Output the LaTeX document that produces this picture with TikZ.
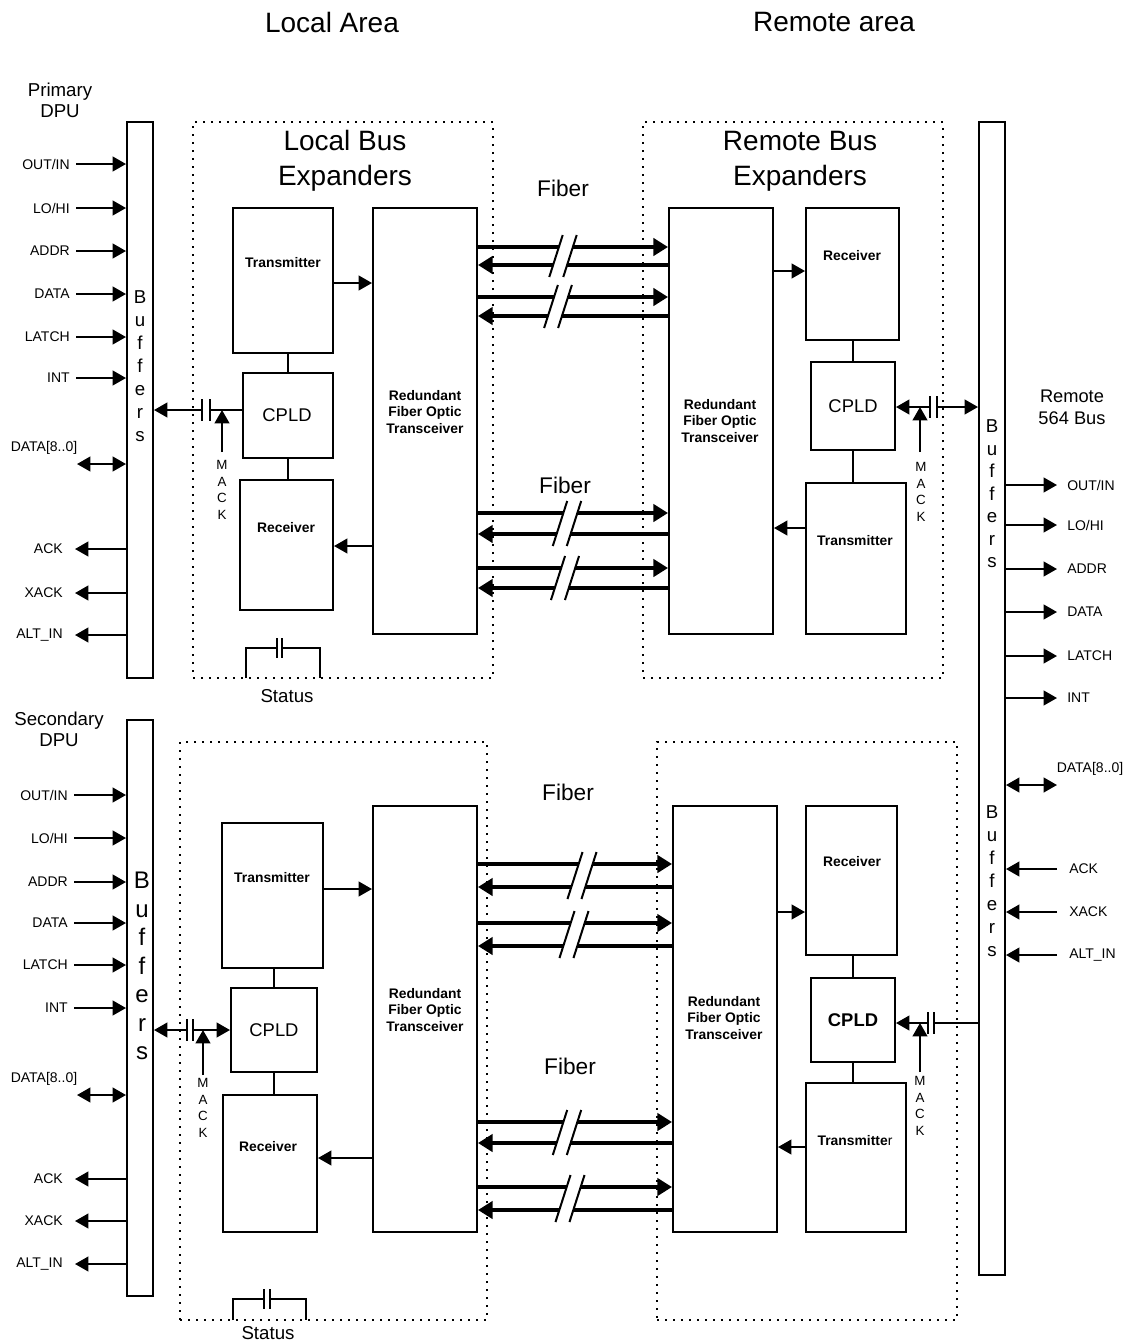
\documentclass[tikz,border=0pt]{standalone}
\usepackage{fontspec}
\setmainfont{Liberation Sans}
\usetikzlibrary{arrows.meta,fit,calc}

\tikzset{
  boite/.style={draw, line width=1.5pt, inner sep=0pt},
  zone/.style={draw, line width=1.5pt, dash pattern=on 1.5pt off 4.5pt, inner sep=0pt},
  trait/.style={line width=1.5pt},
  fleche/.style={line width=1.5pt, -{Triangle[length=10pt,width=11pt]}},
  fleches/.style={line width=1.5pt, {Triangle[length=10pt,width=11pt]}-{Triangle[length=10pt,width=11pt]}},
  fibre/.style={line width=2.6pt},
  fibrefleche/.style={line width=2.6pt, -{Triangle[length=11pt,width=13pt]}},
  titre/.style={font=\fontsize{21}{26.25}\selectfont, align=center, inner sep=0pt},
  fibretxt/.style={font=\fontsize{17}{20}\selectfont, inner sep=0pt},
  dpu/.style={font=\fontsize{14}{15.75}\selectfont, align=center, inner sep=0pt},
  etiq/.style={font=\fontsize{10.5}{12.6}\selectfont, inner sep=0pt},
  gras/.style={font=\fontsize{10.4}{12.4}\selectfont\bfseries, align=center, inner sep=0pt},
  cpld/.style={font=\fontsize{13.8}{16}\selectfont, inner sep=0pt},
  mack/.style={font=\fontsize{10}{12.4}\selectfont, align=center, inner sep=0pt},
  lettres/.style={font=\fontsize{14}{17.25}\selectfont, align=center, inner sep=0pt},
}

\begin{document}
\begin{tikzpicture}[x=0.75pt,y=-0.75pt]
		% cadre de la page (pixels)
		\useasboundingbox (0,0) rectangle (1126,1343);

		% titres
		\node[titre] (tLocal) at (332,22) {Local Area};
		\node[titre] (tRemote) at (834,22) {Remote area};
		\node[dpu] (tPrim) at (60,100) {Primary\\DPU};
		\node[dpu] (tSec) at (59,729) {Secondary\\DPU};
		\node[dpu, font=\fontsize{13.7}{16.5}\selectfont] (tBus) at (1072,407) {Remote\\564 Bus};

		% buffers
		\node[boite, fit={(127,122)(153,678)}] (lbufA) {};
		\node[boite, fit={(127,720)(153,1296)}] (lbufB) {};
		\node[boite, fit={(979,122)(1005,1275)}] (rbuf) {};
		\node[lettres] (bA) at (140,366) {B\\u\\f\\f\\e\\r\\s};
		\node[lettres, font=\fontsize{18}{21.4}\selectfont] (bB) at (142,966) {B\\u\\f\\f\\e\\r\\s};
		\node[lettres, font=\fontsize{14}{16.9}\selectfont] (bR1) at (992,494) {B\\u\\f\\f\\e\\r\\s};
		\node[lettres] (bR2) at (992,881) {B\\u\\f\\f\\e\\r\\s};

		% zones en pointilles
		\node[zone, fit={(193,122)(493,678)}] (zlA) {};
		\node[zone, fit={(643,122)(943,678)}] (zrA) {};
		\node[zone, fit={(180,742)(487,1320)}] (zlB) {};
		\node[zone, fit={(657,742)(957,1320)}] (zrB) {};
		\node[titre] (tLbe) at (345,161) {Local Bus\\Expanders};
		\node[titre] (tRbe) at (800,161) {Remote Bus\\Expanders};
		\node[fibretxt] (f1) at (563,188) {Fiber};
		\node[fibretxt] (f2) at (565,485) {Fiber};
		\node[fibretxt] (f3) at (568,792) {Fiber};
		\node[fibretxt] (f4) at (570,1066) {Fiber};

		% blocs locaux (haut)
		\node[boite, fit={(233,208)(333,353)}] (ltrA) {};
		\node[boite, fit={(373,208)(477,634)}] (lxcA) {};
		\node[boite, fit={(243,373)(333,458)}] (lcpA) {};
		\node[boite, fit={(240,480)(333,610)}] (lrxA) {};
		\node[gras] (ltrAt) at (283,263) {Transmitter};
		\node[gras] (lxcAt) at (425,412) {Redundant\\Fiber Optic\\Transceiver};
		\node[cpld] (lcpAt) at (287,415) {CPLD};
		\node[gras] (lrxAt) at (286,528) {Receiver};

		% blocs distants (haut)
		\node[boite, fit={(669,208)(773,634)}] (rxcA) {};
		\node[boite, fit={(806,208)(899,340)}] (rrxA) {};
		\node[boite, fit={(811,362)(895,450)}] (rcpA) {};
		\node[boite, fit={(806,483)(906,634)}] (rtrA) {};
		\node[gras] (rxcAt) at (720,421) {Redundant\\Fiber Optic\\Transceiver};
		\node[gras] (rrxAt) at (852,256) {Receiver};
		\node[cpld] (rcpAt) at (853,406) {CPLD};
		\node[gras] (rtrAt) at (855,541) {Transmitter};

		% blocs locaux (bas)
		\node[boite, fit={(222,823)(323,968)}] (ltrB) {};
		\node[boite, fit={(373,806)(477,1232)}] (lxcB) {};
		\node[boite, fit={(231,988)(317,1072)}] (lcpB) {};
		\node[boite, fit={(223,1095)(317,1232)}] (lrxB) {};
		\node[gras] (ltrBt) at (272,878) {Transmitter};
		\node[gras] (lxcBt) at (425,1010) {Redundant\\Fiber Optic\\Transceiver};
		\node[cpld] (lcpBt) at (274,1030) {CPLD};
		\node[gras] (lrxBt) at (268,1147) {Receiver};

		% blocs distants (bas)
		\node[boite, fit={(673,806)(777,1232)}] (rxcB) {};
		\node[boite, fit={(806,806)(897,955)}] (rrxB) {};
		\node[boite, fit={(811,978)(895,1062)}] (rcpB) {};
		\node[boite, fit={(806,1083)(906,1232)}] (rtrB) {};
		\node[gras] (rxcBt) at (724,1018) {Redundant\\Fiber Optic\\Transceiver};
		\node[gras] (rrxBt) at (852,862) {Receiver};
		\node[cpld, font=\fontsize{13.8}{16}\selectfont\bfseries] (rcpBt) at (853,1020) {CPLD};
		\node[gras] (rtrBt) at (855,1141) {Transmitte\mdseries r};

		% liaisons internes
		\draw[trait] (lcpA.north) -- (lcpA.north |- ltrA.south);
		\draw[trait] (lcpA.south) -- (lcpA.south |- lrxA.north);
		\draw[fleche] (ltrA.east |- 0,283) -- (lxcA.west |- 0,283);
		\draw[fleche] (lxcA.west |- 0,546) -- (lrxA.east |- 0,546);
		\draw[trait] (rcpA.north) -- (rcpA.north |- rrxA.south);
		\draw[trait] (rcpA.south) -- (rcpA.south |- rtrA.north);
		\draw[fleche] (rxcA.east |- 0,271) -- (rrxA.west |- 0,271);
		\draw[fleche] (rtrA.west |- 0,528) -- (rxcA.east |- 0,528);
		\draw[trait] (lcpB.north) -- (lcpB.north |- ltrB.south);
		\draw[trait] (lcpB.south) -- (lcpB.south |- lrxB.north);
		\draw[fleche] (ltrB.east |- 0,889) -- (lxcB.west |- 0,889);
		\draw[fleche] (lxcB.west |- 0,1158) -- (lrxB.east |- 0,1158);
		\draw[trait] (rcpB.north) -- (rcpB.north |- rrxB.south);
		\draw[trait] (rcpB.south) -- (rcpB.south |- rtrB.north);
		\draw[fleche] (rxcB.east |- 0,912) -- (rrxB.west |- 0,912);
		\draw[fleche] (rtrB.west |- 0,1147) -- (rxcB.east |- 0,1147);

		% fibres : y aller, y retour, milieu de la coupure
		\foreach \ya/\yb/\xc/\gauche/\droite in {247/265/563/lxcA/rxcA, 297/316/558/lxcA/rxcA,
				513/534/567/lxcA/rxcA, 568/588/565/lxcA/rxcA, 864/887/582/lxcB/rxcB,
				923/946/574/lxcB/rxcB, 1122/1143/567/lxcB/rxcB, 1187/1210/570/lxcB/rxcB}{%
			\pgfmathsetmacro{\ym}{(\ya+\yb)/2}
			\pgfmathsetmacro{\oa}{0.32*(\ym-\ya)}
			\pgfmathsetmacro{\ob}{0.32*(\ym-\yb)}
			\pgfmathsetmacro{\dx}{0.16*(\yb-\ya+24)}
			\draw[fibre] (\gauche.east |- 0,\ya) -- ({\xc-7+\oa},\ya);
			\draw[fibrefleche] ({\xc+7+\oa},\ya) -- (\droite.west |- 0,\ya);
			\draw[fibrefleche] ({\xc-7+\ob},\yb) -- (\gauche.east |- 0,\yb);
			\draw[fibre] (\droite.west |- 0,\yb) -- ({\xc+7+\ob},\yb);
			\draw[trait] ({\xc-7-\dx},{\yb+12}) -- ({\xc-7+\dx},{\ya-12});
			\draw[trait] ({\xc+7-\dx},{\yb+12}) -- ({\xc+7+\dx},{\ya-12});
		}

		% signaux du buffer primaire
		\foreach \yy/\nom [count=\i] in {164/{OUT/IN},208/{LO/HI},251/ADDR,294/DATA,337/LATCH,378/INT}{%
			\node[etiq, anchor=east] (inA\i) at (70,\yy) {\nom};
			\coordinate (inAc\i) at (76,\yy);
			\draw[fleche] (inAc\i) -- (lbufA.west |- inAc\i);
		}
		\foreach \yy/\nom [count=\i] in {549/ACK,593/XACK,635/ALT\_IN}{%
			\node[etiq, anchor=east] (outA\i) at (63,\yy) {\nom};
			\coordinate (outAc\i) at (75,\yy);
			\draw[fleche] (lbufA.west |- outAc\i) -- (outAc\i);
		}
		\node[etiq] (dA) at (44,448) {DATA[8..0]};
		\coordinate (dAc) at (77,464);
		\draw[fleches] (dAc) -- (lbufA.west |- dAc);

		% signaux du buffer secondaire
		\foreach \yy/\nom [count=\i] in {795/{OUT/IN},838/{LO/HI},882/ADDR,923/DATA,965/LATCH,1008/INT}{%
			\node[etiq, anchor=east] (inB\i) at (68,\yy) {\nom};
			\coordinate (inBc\i) at (74,\yy);
			\draw[fleche] (inBc\i) -- (lbufB.west |- inBc\i);
		}
		\foreach \yy/\nom [count=\i] in {1179/ACK,1221/XACK,1264/ALT\_IN}{%
			\node[etiq, anchor=east] (outB\i) at (63,\yy) {\nom};
			\coordinate (outBc\i) at (75,\yy);
			\draw[fleche] (lbufB.west |- outBc\i) -- (outBc\i);
		}
		\node[etiq] (dB) at (44,1079) {DATA[8..0]};
		\coordinate (dBc) at (77,1095);
		\draw[fleches] (dBc) -- (lbufB.west |- dBc);

		% signaux du bus distant
		\foreach \yy/\nom [count=\i] in {485/{OUT/IN},525/{LO/HI},569/ADDR,612/DATA,656/LATCH,698/INT}{%
			\node[etiq, anchor=west] (outR\i) at (1067,\yy) {\nom};
			\coordinate (outRc\i) at (1057,\yy);
			\draw[fleche] (rbuf.east |- outRc\i) -- (outRc\i);
		}
		\foreach \yy/\nom [count=\i] in {869/ACK,912/XACK,955/ALT\_IN}{%
			\node[etiq, anchor=west] (inR\i) at (1069,\yy) {\nom};
			\coordinate (inRc\i) at (1057,\yy);
			\draw[fleche] (inRc\i) -- (rbuf.east |- inRc\i);
		}
		\node[etiq] (dR) at (1090,769) {DATA[8..0]};
		\coordinate (dRc) at (1057,785);
		\draw[fleches] (rbuf.east |- dRc) -- (dRc);

		% condensateurs et MACK
		\coordinate (capA1) at (202,410); \coordinate (capA2) at (210,410);
		\draw[trait] (202,399) -- (202,421) (210,399) -- (210,421);
		\draw[fleche] (capA1) -- (lbufA.east |- capA1);
		\draw[trait] (lcpA.west |- capA2) -- (capA2);
		\coordinate (mackA) at (222,452);
		\draw[fleche] (mackA) -- (mackA |- capA2);
		\node[mack] (mackAt) at (222,490) {M\\A\\C\\K};

		\coordinate (capR1) at (930,407); \coordinate (capR2) at (937,407);
		\draw[trait] (930,396) -- (930,418) (937,396) -- (937,418);
		\draw[fleche] (capR1) -- (rcpA.east |- capR1);
		\draw[fleche] (capR2) -- (rbuf.west |- capR2);
		\coordinate (mackR) at (920,452);
		\draw[fleche] (mackR) -- (mackR |- capR1);
		\node[mack] (mackRt) at (921,492) {M\\A\\C\\K};

		\coordinate (capB1) at (187,1030); \coordinate (capB2) at (193,1030);
		\draw[trait] (187,1019) -- (187,1041) (193,1019) -- (193,1041);
		\draw[fleche] (capB1) -- (lbufB.east |- capB1);
		\draw[fleche] (capB2) -- (lcpB.west |- capB2);
		\coordinate (mackB) at (203,1075);
		\draw[fleche] (mackB) -- (mackB |- capB2);
		\node[mack] (mackBt) at (203,1108) {M\\A\\C\\K};

		\coordinate (capS1) at (928,1023); \coordinate (capS2) at (934,1023);
		\draw[trait] (928,1012) -- (928,1034) (934,1012) -- (934,1034);
		\draw[fleche] (capS1) -- (rcpB.east |- capS1);
		\draw[trait] (capS2) -- (rbuf.west |- capS2);
		\coordinate (mackS) at (920,1072);
		\draw[fleche] (mackS) -- (mackS |- capS1);
		\node[mack] (mackSt) at (920,1106) {M\\A\\C\\K};

		% status
		\draw[trait] (246,678) |- (277,648) (282,648) -| (320,678);
		\draw[trait] (277,638) -- (277,658) (282,638) -- (282,658);
		\node[dpu] (stA) at (287,696) {Status};
		\draw[trait] (233,1320) |- (264,1299) (270,1299) -| (306,1320);
		\draw[trait] (264,1289) -- (264,1309) (270,1289) -- (270,1309);
		\node[dpu] (stB) at (268,1333) {Status};
	\end{tikzpicture}
\end{document}
